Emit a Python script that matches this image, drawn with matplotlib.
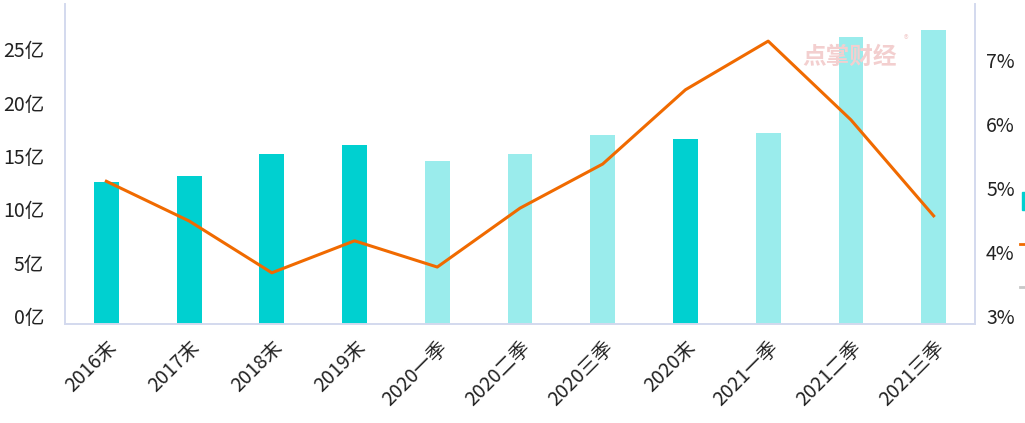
import matplotlib.pyplot as plt
from matplotlib.lines import Line2D
from matplotlib.patches import Rectangle
from matplotlib.transforms import ScaledTranslation
import numpy as np

plt.rcParams['font.family'] = ['Noto Sans CJK SC', 'DejaVu Sans']

categories = ["2016末", "2017末", "2018末", "2019末", "2020一季", "2020二季",
              "2020三季", "2020末", "2021一季", "2021二季", "2021三季"]
amount = [13.3, 13.9, 15.9, 16.8, 15.3, 15.9, 17.7, 17.3, 17.9, 26.9, 27.6]  # 亿
ratio = [5.23, 4.61, 3.80, 4.30, 3.89, 4.81, 5.50, 6.66, 7.42, 6.19, 4.69]  # %
left_ticks = [0, 5, 10, 15, 20, 25]
right_ticks = [3, 4, 5, 6, 7]

dark = "#00D0D0"
light = "#9AECEC"
orange = "#F06A00"
axis_col = "#D3D9EE"

fig = plt.figure(figsize=(10.25, 4.23), dpi=100)
ax = fig.add_axes([65 / 1025, 99 / 423, 910 / 1025, 320 / 423])
ax2 = ax.twinx()

x = np.arange(len(categories))
colors = [dark if c.endswith("末") else light for c in categories]
ax.bar(x, amount, width=0.3, color=colors, zorder=2)
ax2.plot(x, ratio, color=orange, lw=2.2, zorder=3)

ax.set_xlim(-0.5, len(categories) - 0.5)
ax.set_ylim(0, 30)
ax2.set_ylim(3, 8)

ax.set_yticks(left_ticks)
ax.set_yticklabels([f"{t}亿" for t in left_ticks])
ax2.set_yticks(right_ticks)
ax2.set_yticklabels([f"{t}%" for t in right_ticks])
ax.set_xticks(x)
ax.set_xticklabels(categories, rotation=45, ha="right", rotation_mode="anchor")

for a in (ax, ax2):
    for s in a.spines.values():
        s.set_color(axis_col)
        s.set_linewidth(1.2)
    a.spines["top"].set_visible(False)
    a.tick_params(length=0, labelsize=14, labelcolor="#222222")
ax.tick_params(axis="y", pad=15)
ax2.tick_params(axis="y", pad=8)
ax.tick_params(axis="x", pad=9)

shift = ScaledTranslation(0, 8 / 100, fig.dpi_scale_trans)
for lab in ax.get_yticklabels() + ax2.get_yticklabels():
    lab.set_transform(lab.get_transform() + shift)

# watermark
fig.text(850 / 1025, 1 - 57 / 423, "点掌财经", color="#F3CFCF", fontsize=17,
         fontweight="bold", ha="center", va="center", zorder=0)
fig.text(906 / 1025, 1 - 40 / 423, "®", color="#F3CFCF", fontsize=7,
         ha="center", va="center")

# legend markers, cut off at the right edge as in the source
fig.add_artist(Rectangle((1022 / 1025, 1 - 210 / 423), 10 / 1025, 18 / 423,
                         transform=fig.transFigure, color=dark))
fig.add_artist(Line2D([1020 / 1025, 1.01], [1 - 244 / 423] * 2,
                      transform=fig.transFigure, color=orange, lw=2))
fig.add_artist(Line2D([1020 / 1025, 1.01], [1 - 287 / 423] * 2,
                      transform=fig.transFigure, color="#C8C8C8", lw=2))

fig.savefig("out.png", dpi=100)
